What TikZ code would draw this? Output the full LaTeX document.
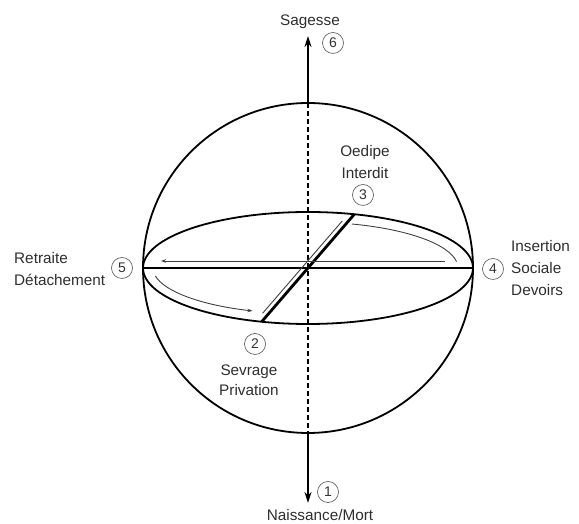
\documentclass[tikz,border=0pt]{standalone}
\usepackage{fontspec}
\setmainfont{Liberation Sans}
\usetikzlibrary{arrows.meta,calc}
\begin{document}
\begin{tikzpicture}[x=1pt,y=1pt,
  lbl/.style={text=black!82,inner sep=0pt,font=\fontsize{15.3}{22}\selectfont},
  num/.style={draw=black!60,line width=0.7pt,circle,minimum size=21pt,inner sep=0pt,text=black!80,font=\fontsize{14}{14}\selectfont},
  outline/.style={line width=1.8pt,black},
  axis/.style={line width=2.3pt,black},
  thinarrow/.style={line width=0.9pt,black!75}]
\useasboundingbox (0,0) rectangle (579,524);
% centre
\coordinate (C) at (308,256);
\coordinate (W) at (143,256);
\coordinate (E) at (473,256);
\coordinate (Top) at (308,421);
\coordinate (Bot) at (308,91);
\coordinate (Tip6) at (308,488);
\coordinate (Tip1) at (308,21);
% sphere and equator ellipse
\draw[outline] (C) circle[radius=165];
\draw[outline] (C) ellipse[x radius=165,y radius=56];
% vertical axis
\draw[axis,dash pattern=on 5pt off 3pt] (Top) -- (Bot);
\draw[axis,-{Stealth[length=11pt,width=7pt]}] (Top) -- (Tip6);
\draw[axis,-{Stealth[length=11pt,width=7pt]}] (Bot) -- (Tip1);
% horizontal diameter
\draw[line width=2.8pt] (W) -- (E);
% slanted diameter
\coordinate (P3) at ($(C)+(46.3,53.7)$);
\coordinate (P2) at ($(C)+(-46.3,-53.7)$);
\draw[line width=2.8pt] (P2) -- (P3);
% parallel thin line
\coordinate (Q2) at ($(C)+(-64*0.653-4.8*0.757,-64*0.757+4.8*0.653)$);
\coordinate (Q3) at ($(C)+(58*0.653-4.8*0.757,58*0.757+4.8*0.653)$);
\draw[thinarrow] (Q2) -- (Q3);
% horizontal thin arrow (4 -> 5)
\coordinate (H4) at (445,263);
\coordinate (H5) at (161,263);
\draw[thinarrow,-{Stealth[length=5pt,width=3.5pt]}] (H4) -- (H5);
% lower-left curve (5 -> 2)
\coordinate (L5) at ($(C)+(190:155 and 46)$);
\draw[thinarrow,-{Stealth[length=5pt,width=3.5pt]}] (L5) arc[start angle=190,end angle=249,x radius=155,y radius=46];
% upper-right curve (3 -> 4)
\coordinate (U3) at ($(C)+(73:150 and 46)$);
\draw[thinarrow] (U3) arc[start angle=73,end angle=8,x radius=150,y radius=46];
% labels
\node[lbl] (sag) at (310,502) {Sagesse};
\node[num] (n6) at (333,481) {6};
\node[lbl,align=center] (oed) at (365,362) {Oedipe\\Interdit};
\node[num] (n3) at (363,329) {3};
\node[lbl,align=left,anchor=west] (ret) at (14,255) {Retraite\\Détachement};
\node[num] (n5) at (122,256) {5};
\node[num] (n4) at (493,255) {4};
\node[lbl,align=left,anchor=west] (ins) at (511,256) {Insertion\\Sociale\\Devoirs};
\node[num] (n2) at (255,180) {2};
\node[lbl,align=center,font=\fontsize{15.3}{20}\selectfont] (sev) at (249,144) {Sevrage\\Privation};
\node[num] (n1) at (328,32) {1};
\node[lbl] (nai) at (320,9) {Naissance/Mort};
\end{tikzpicture}
\end{document}
